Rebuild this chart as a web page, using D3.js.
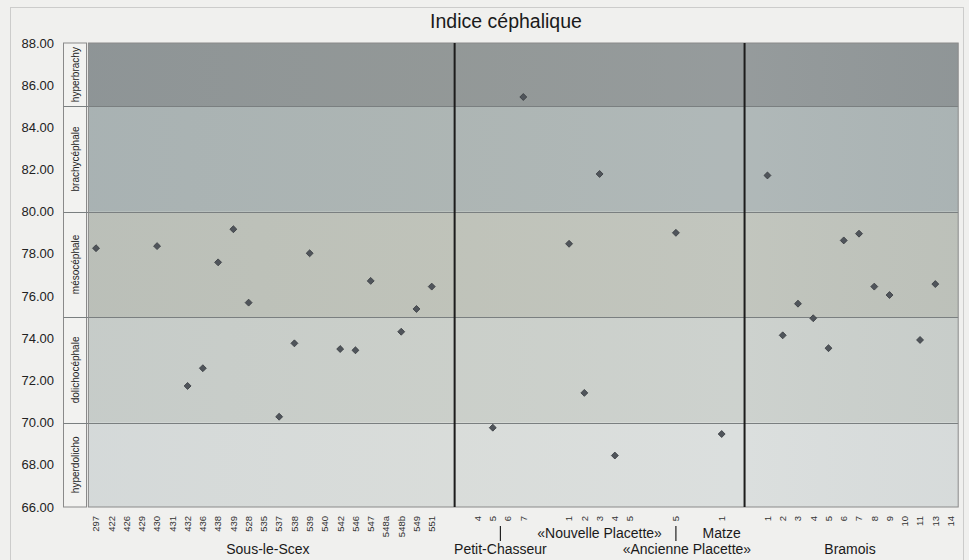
<!DOCTYPE html>
<html>
<head>
<meta charset="utf-8">
<script src="https://cdn.jsdelivr.net/npm/d3@7"></script>
<style>
  html, body { margin:0; padding:0; background:#f0f0ee; }
  svg { display:block; font-family:"Liberation Sans", Arial, sans-serif; }
</style>
</head>
<body>
<svg id="chart" width="969" height="560"></svg>
<script>
/* ===== Indice céphalique — scatter by grave, grouped by site ===== */

// x categories (blank strings = empty slots between sites)
const categories = [
  "297","422","426","429","430","431","432","436","438","439","528","535","537","538","539","540","542","546","547","548a","548b","549","551",
  "","",
  "4","5","6","7",
  "","",
  "1","2","3","4","5",
  "","",
  "5",
  "","",
  "1",
  "","",
  "1","2","3","4","5","6","7","8","9","10","11","13","14"
];

// cephalic index per category (null = no measure)
const values = [
  78.27,null,null,null,78.37,null,71.74,72.58,77.60,79.17,75.69,null,70.28,73.76,78.03,null,73.49,73.43,76.72,null,74.31,75.39,76.45,
  null,null,
  null,69.76,null,85.44,
  null,null,
  78.48,71.41,81.79,68.44,null,
  null,null,
  79.00,
  null,null,
  69.46,
  null,null,
  81.72,74.14,75.64,74.95,73.53,78.64,78.96,76.45,76.05,null,73.92,76.57,null
];

// sites (first / last category index)
const groupNames = ["Sous-le-Scex","Petit-Chasseur","«Nouvelle Placette»","«Ancienne Placette»","Matze","Bramois"];
const groupFirst = [0, 25, 31, 38, 41, 44];
const groupLast  = [22, 28, 35, 38, 41, 56];

// heavy separators drawn after these category indexes
const dividerAfter = [23, 42];

// classification bands
const bandNames  = ["hyperdolicho","dolichocéphale","mésocéphale","brachycéphale","hyperbrachy"];
const bandBreaks = [66, 70, 75, 80, 85, 88];

const yTicks = [66,68,70,72,74,76,78,80,82,84,86,88];

/* ---------- layout ---------- */
const P = { l:88.4, r:958.2, t:43, b:507 };
const BAND_COL = { l:63.5, r:86.5 };
const BAND_FILL = ["#d9dddc","#cacfcb","#bec2ba","#abb4b4","#8f9596"];

const svg = d3.select("#chart");

const x = d3.scaleBand().domain(d3.range(categories.length)).range([P.l, P.r]);
const y = d3.scaleLinear().domain([66, 88]).range([P.b, P.t]);
const xc = i => x(i) + x.bandwidth()/2;

// outer dotted frame
svg.append("rect")
  .attr("x",10.5).attr("y",7.5).attr("width",953).attr("height",580)
  .attr("fill","none").attr("stroke","#a8a8a8").attr("stroke-dasharray","1,1");

// title
svg.append("text")
  .attr("x",506).attr("y",28).attr("text-anchor","middle")
  .attr("font-size",19.5).attr("fill","#1a1a1a")
  .text("Indice céphalique");

// soft horizontal shading so the bands are not perfectly flat
const defs = svg.append("defs");
const sh = defs.append("linearGradient").attr("id","shade").attr("x1","0").attr("x2","1").attr("y1","0").attr("y2","0");
sh.append("stop").attr("offset","0%").attr("stop-color","#7d8d9c").attr("stop-opacity",0.05);
sh.append("stop").attr("offset","40%").attr("stop-color","#d8d0b0").attr("stop-opacity",0.05);
sh.append("stop").attr("offset","75%").attr("stop-color","#ffffff").attr("stop-opacity",0.06);
sh.append("stop").attr("offset","100%").attr("stop-color","#9aa4b0").attr("stop-opacity",0.04);

// band backgrounds
const bandIdx = d3.range(bandNames.length);
svg.append("g").selectAll("rect").data(bandIdx).join("rect")
  .attr("x",P.l).attr("width",P.r-P.l)
  .attr("y",i => y(bandBreaks[i+1]))
  .attr("height",i => y(bandBreaks[i]) - y(bandBreaks[i+1]))
  .attr("fill",i => BAND_FILL[i]);
svg.append("rect").attr("x",P.l).attr("y",P.t).attr("width",P.r-P.l).attr("height",P.b-P.t)
  .attr("fill","url(#shade)");

// band label column
svg.append("rect")
  .attr("x",BAND_COL.l).attr("y",P.t).attr("width",BAND_COL.r-BAND_COL.l).attr("height",P.b-P.t)
  .attr("fill","#f2f2f0").attr("stroke","#8a8a8a").attr("stroke-width",1);

// band separators
svg.append("g").selectAll("line").data(bandBreaks.slice(1,-1)).join("line")
  .attr("x1",BAND_COL.l).attr("x2",P.r)
  .attr("y1",d => Math.round(y(d))+0.5).attr("y2",d => Math.round(y(d))+0.5)
  .attr("stroke","#7a7f80").attr("stroke-width",1);

svg.append("g").selectAll("text").data(bandIdx).join("text")
  .attr("transform",i => `translate(${(BAND_COL.l+BAND_COL.r)/2},${(y(bandBreaks[i])+y(bandBreaks[i+1]))/2}) rotate(-90)`)
  .attr("text-anchor","middle").attr("dy","0.35em")
  .attr("font-size",10).attr("fill","#222")
  .text(i => bandNames[i]);

// plot border
svg.append("rect")
  .attr("x",P.l).attr("y",P.t).attr("width",P.r-P.l).attr("height",P.b-P.t)
  .attr("fill","none").attr("stroke","#8a8a8a").attr("stroke-width",1);

// y axis labels
svg.append("g").selectAll("text").data(yTicks).join("text")
  .attr("x",54).attr("y",d => y(d)).attr("dy","0.35em")
  .attr("text-anchor","end").attr("font-size",13).attr("fill","#222")
  .text(d => d.toFixed(2));

// site dividers
svg.append("g").selectAll("line").data(dividerAfter).join("line")
  .attr("x1",d => x(d)+x.bandwidth()).attr("x2",d => x(d)+x.bandwidth())
  .attr("y1",P.t).attr("y2",P.b)
  .attr("stroke","#1c1c1c").attr("stroke-width",2);

// x tick labels
svg.append("g").selectAll("text").data(d3.range(categories.length).filter(i => categories[i] !== "")).join("text")
  .attr("transform",i => `translate(${xc(i)},516) rotate(-90)`)
  .attr("text-anchor","end").attr("dy","0.35em")
  .attr("font-size",9.5).attr("fill","#333")
  .text(i => categories[i]);

// site labels (two rows, small connector for crowded ones)
const lowerRow = new Set(["Sous-le-Scex","Petit-Chasseur","«Ancienne Placette»","Bramois"]);
const withStem = new Set(["Petit-Chasseur","«Ancienne Placette»"]);
const shift = { "Sous-le-Scex":4, "«Ancienne Placette»":11, "Bramois":-9 };
const gl = svg.append("g");
groupNames.forEach((name, k) => {
  const cx = (xc(groupFirst[k]) + xc(groupLast[k])) / 2;
  if (withStem.has(name)) {
    gl.append("line").attr("x1",cx).attr("x2",cx).attr("y1",526).attr("y2",541)
      .attr("stroke","#222").attr("stroke-width",1.2);
  }
  gl.append("text")
    .attr("x",cx + (shift[name] || 0)).attr("y",lowerRow.has(name) ? 554 : 538)
    .attr("text-anchor","middle").attr("font-size",14).attr("fill","#1a1a1a")
    .text(name);
});

// points
const pts = d3.range(values.length).filter(i => values[i] != null);
svg.append("g").selectAll("path").data(pts).join("path")
  .attr("d", d3.symbol().type(d3.symbolSquare).size(24)())
  .attr("transform",i => `translate(${xc(i)},${y(values[i])}) rotate(45)`)
  .attr("fill","#50555b").attr("stroke","#3a3d42").attr("stroke-width",0.8);
</script>
</body>
</html>
